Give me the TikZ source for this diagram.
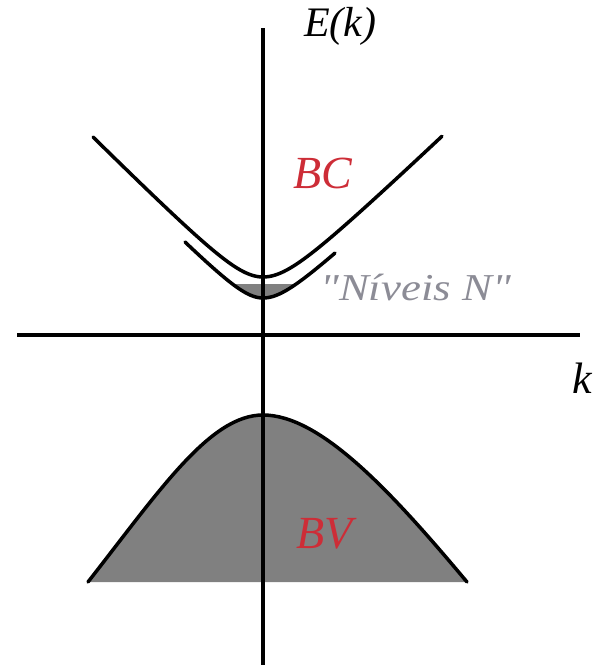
\documentclass[tikz,border=0pt]{standalone}
\usepackage{fontspec}
\newfontfamily\lser{Liberation Serif}
\definecolor{bandred}{RGB}{205,45,55}
\definecolor{fillgray}{RGB}{128,128,128}
\definecolor{lblgray}{RGB}{140,140,150}
\begin{document}
\begin{tikzpicture}[x=1pt,y=-1pt,
  axis/.style={line width=4pt},
  band/.style={line width=3.5pt, line cap=round, line join=round},
  lbl/.style={inner sep=0pt, anchor=base west},
  declare function={
    inner(\t)=324.3-10*sqrt(6.92+(((\t<263)?1:0.92)*(\t-263)/10)*(((\t<263)?1:0.92)*(\t-263)/10));
    outer(\t)=310.2-10*sqrt(11.02+(((\t<263)?1:0.954)*(\t-263)/10)*(((\t<263)?1:0.954)*(\t-263)/10));
  }]
\useasboundingbox (0,0) rectangle (597,670);
% valence band
\fill[fillgray] (88,582) .. controls (160,490) and (210,415) .. (263,415)
  .. controls (320,415) and (390,490) .. (467,582) -- cycle;
\draw[band] (88,582) .. controls (160,490) and (210,415) .. (263,415)
  .. controls (320,415) and (390,490) .. (467,582);
% filled levels
\fill[fillgray] plot[domain=232.5:296, samples=40] (\x, {inner(\x)}) -- cycle;
% inner (levels) curve
\draw[band] plot[domain=185:335, samples=90] (\x, {inner(\x)});
% conduction band
\draw[band] plot[domain=93:442, samples=120] (\x, {outer(\x)});
% axes
\coordinate (vtop) at (263,28);
\coordinate (vbot) at (263,665);
\coordinate (hl) at (17,335);
\coordinate (hr) at (580,335);
\draw[axis] (vtop) -- (vbot);
\draw[axis] (hl) -- (hr);
% labels
\node[lbl, font=\lser\itshape\fontsize{42}{44}\selectfont] (E) at (304,36) {E(k)};
\node[lbl, font=\lser\itshape\fontsize{44}{46}\selectfont] (k) at (572,393) {k};
\node[lbl, text=bandred, font=\lser\itshape\fontsize{46}{48}\selectfont] (BC) at (293,188) {BC};
\node[lbl, text=bandred, font=\lser\itshape\fontsize{46}{48}\selectfont] (BV) at (296,548) {BV};
\node[lbl, text=lblgray, font=\lser\itshape\fontsize{38}{40}\selectfont] (N) at (320,300) {\scalebox{1.18}[1]{"Níveis N"}};
\end{tikzpicture}
\end{document}
